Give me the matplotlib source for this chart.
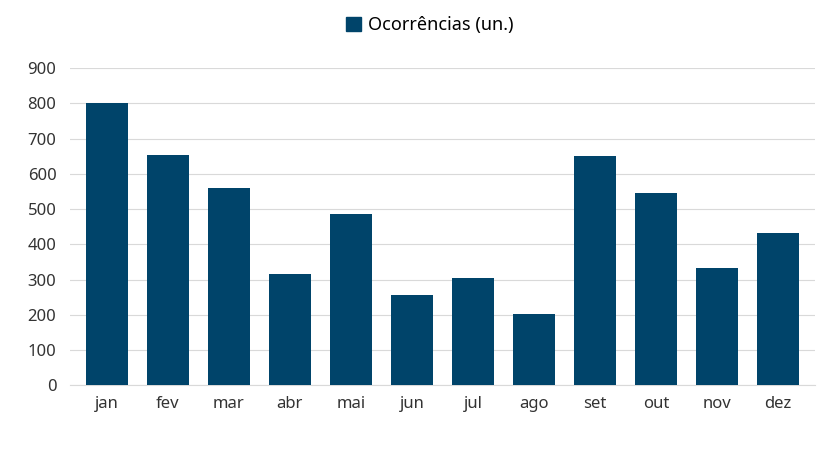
import matplotlib
matplotlib.use("Agg")
import matplotlib.pyplot as plt
from matplotlib.patches import Patch

months = ["jan","fev","mar","abr","mai","jun","jul","ago","set","out","nov","dez"]
values = [800, 655, 560, 315, 487, 255, 305, 202, 650, 545, 332, 432]
series_name = "Ocorrências (un.)"
color = "#00446a"

plt.rcParams['font.family'] = ['Noto Sans', 'DejaVu Sans']
fig = plt.figure(figsize=(8.27, 4.49), dpi=100)
ax = fig.add_axes([0.085, 0.142, 0.9, 0.706])
ax.bar(range(len(months)), values, width=0.68, color=color, zorder=3)
ax.set_xlim(-0.6, 11.6)
ax.set_ylim(0, 900)
ax.set_yticks(range(0, 901, 100))
ax.set_xticks(range(len(months)))
ax.set_xticklabels(months)
ax.grid(axis='y', color='#d9d9d9', linewidth=0.8, zorder=0)
for s in ['top', 'right', 'left']:
    ax.spines[s].set_visible(False)
ax.spines['bottom'].set_color('#d9d9d9')
ax.tick_params(length=0, labelsize=12, colors='#333333')
ax.tick_params(axis='x', pad=8)
ax.tick_params(axis='y', pad=10)
fig.legend(handles=[Patch(color=color, label=series_name)], loc='upper center',
           bbox_to_anchor=(0.52, 1.0), frameon=False, fontsize=13,
           handlelength=0.8, handleheight=0.8, handletextpad=0.4)
fig.savefig("out.png", dpi=100)
